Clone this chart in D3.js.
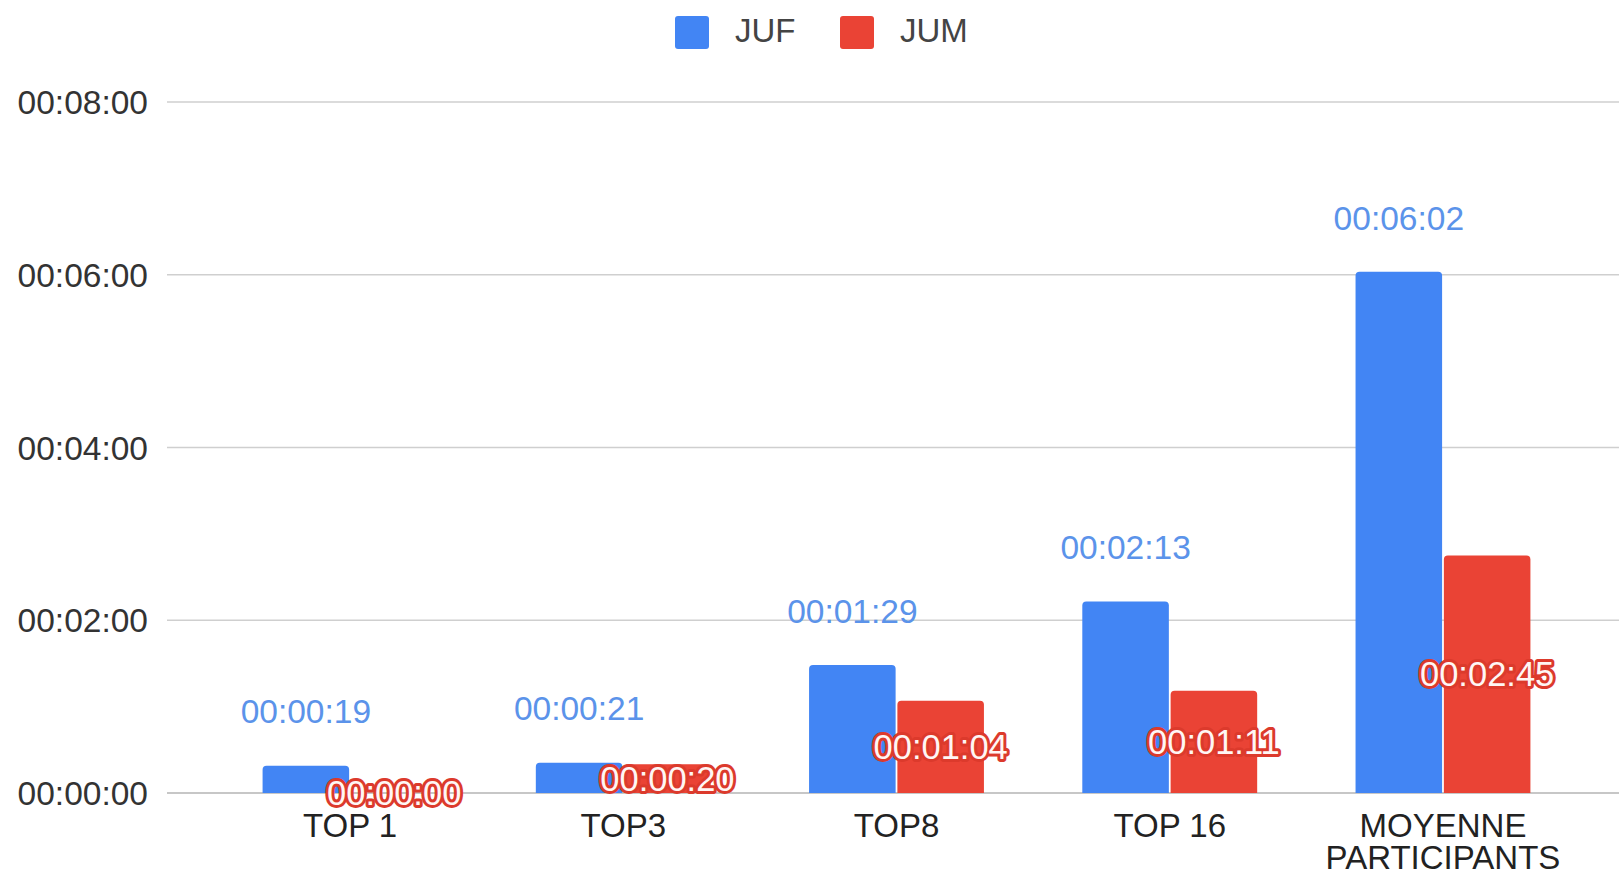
<!DOCTYPE html>
<html>
<head>
<meta charset="utf-8">
<script src="https://cdn.jsdelivr.net/npm/d3@7"></script>
<style>
  html, body { margin: 0; padding: 0; background: #fff; }
  svg { display: block; font-family: "Liberation Sans", Arial, sans-serif; }
</style>
</head>
<body>
<script>
// ---- data ----
const categories = ["TOP 1", "TOP3", "TOP8", "TOP 16", "MOYENNE\nPARTICIPANTS"];
const seriesNames = ["JUF", "JUM"];
const seriesColors = ["#4285f4", "#ea4335"];
const jufSeconds = [19, 21, 89, 133, 362];
const jumSeconds = [0, 20, 64, 71, 165];
const yTickSeconds = [0, 120, 240, 360, 480];

const W = 1619, H = 875;
const fmt = s => {
  const h = Math.floor(s / 3600), m = Math.floor((s % 3600) / 60), sec = s % 60;
  const p = n => String(n).padStart(2, "0");
  return p(h) + ":" + p(m) + ":" + p(sec);
};

const svg = d3.select("body").append("svg").attr("width", W).attr("height", H);

const y = d3.scaleLinear().domain([0, 480]).range([793, 102]);
const x0 = d3.scaleBand().domain(categories).range([213.4, 1579.6])
  .paddingInner(0.36).paddingOuter(0.18);
const x1 = d3.scaleBand().domain(seriesNames).range([0, x0.bandwidth()]).paddingInner(0.02);

// gridlines
const gridLeft = 167, gridRight = W;
svg.append("g").selectAll("line").data(yTickSeconds).join("line")
  .attr("x1", gridLeft).attr("x2", gridRight)
  .attr("y1", d => y(d)).attr("y2", d => y(d))
  .attr("stroke", d => d === 0 ? "#b5b5b5" : "#cfcfcf")
  .attr("stroke-width", 1.6);

// y axis labels via d3.axisLeft
const yAxis = d3.axisLeft(y).tickValues(yTickSeconds).tickFormat(fmt).tickSize(0).tickPadding(0);
const gy = svg.append("g").attr("transform", "translate(148,0)").call(yAxis);
gy.select(".domain").remove();
gy.selectAll("text").attr("font-size", 33.5).attr("fill", "#333")
  .attr("font-family", "'Liberation Sans', Arial, sans-serif").attr("dy", "0.35em");

// x axis labels
const xAxis = d3.axisBottom(x0).tickSize(0).tickFormat(() => "");
const gx = svg.append("g").attr("transform", "translate(0,793)").call(xAxis);
gx.select(".domain").remove();
gx.selectAll(".tick").each(function(d) {
  const lines = d.split("\n");
  const t = d3.select(this).append("text")
    .attr("text-anchor", "middle").attr("font-size", 33).attr("fill", "#222")
    .attr("font-family", "'Liberation Sans', Arial, sans-serif");
  lines.forEach((ln, i) => {
    t.append("tspan").attr("x", 0).attr("y", 44 + i * 32).text(ln);
  });
});

// bars
const rows = categories.map((c, i) => ({ cat: c, vals: [jufSeconds[i], jumSeconds[i]] }));
function topRounded(xp, yp, w, h, r) {
  if (h <= 0) return "";
  r = Math.min(r, h, w / 2);
  return `M${xp},${yp + h}V${yp + r}Q${xp},${yp} ${xp + r},${yp}H${xp + w - r}Q${xp + w},${yp} ${xp + w},${yp + r}V${yp + h}Z`;
}
const groups = svg.append("g").selectAll("g").data(rows).join("g")
  .attr("transform", d => `translate(${x0(d.cat)},0)`);
groups.selectAll("path").data(d => d.vals.map((v, k) => ({ v, k }))).join("path")
  .attr("d", d => topRounded(x1(seriesNames[d.k]), y(d.v), x1.bandwidth(), y(0) - y(d.v), 4))
  .attr("fill", d => seriesColors[d.k]);

// blue labels (above JUF bars)
groups.append("text")
  .attr("x", x1("JUF") + x1.bandwidth() / 2)
  .attr("y", d => y(d.vals[0]) - 54)
  .attr("dy", "0.35em")
  .attr("text-anchor", "middle").attr("font-size", 33.5).attr("fill", "#5b93ea")
  .text(d => fmt(d.vals[0]));

// red labels (centered inside JUM bars, halo)
groups.append("text")
  .attr("x", x1("JUM") + x1.bandwidth() / 2)
  .attr("y", d => (y(d.vals[1]) + y(0)) / 2)
  .attr("dy", "0.35em")
  .attr("text-anchor", "middle").attr("font-size", 34.5)
  .attr("fill", "#fff6f4").attr("stroke", "#dc3a2c").attr("stroke-width", 6)
  .attr("stroke-linejoin", "round").attr("paint-order", "stroke")
  .text(d => fmt(d.vals[1]));

// legend
const legendX = [675, 840];
const leg = svg.append("g").selectAll("g").data(seriesNames).join("g")
  .attr("transform", (d, i) => `translate(${legendX[i]},16)`);
leg.append("rect").attr("width", 34).attr("height", 33).attr("rx", 3)
  .attr("fill", (d, i) => seriesColors[i]);
leg.append("text").attr("x", 60).attr("y", 14).attr("dy", "0.35em")
  .attr("font-size", 33).attr("fill", "#444").text(d => d);
</script>
</body>
</html>
